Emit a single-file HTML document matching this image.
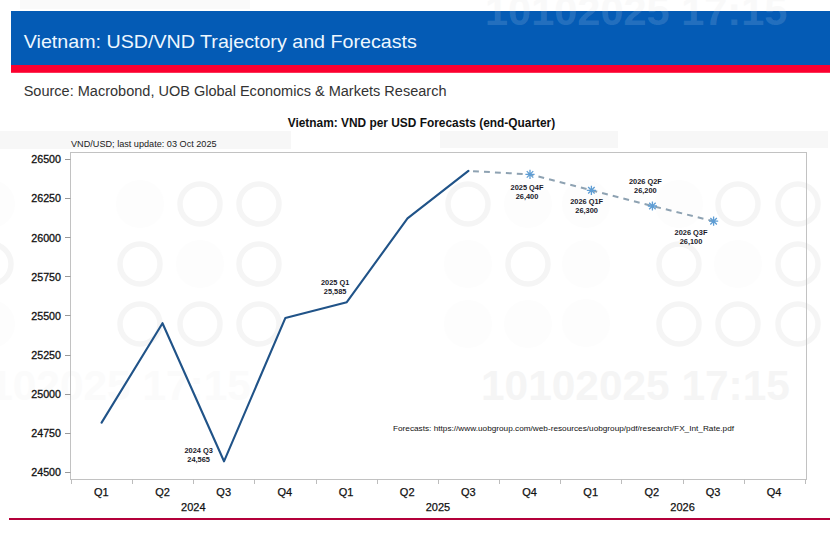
<!DOCTYPE html>
<html><head><meta charset="utf-8"><title>Vietnam: USD/VND Trajectory and Forecasts</title>
<style>
html,body{margin:0;padding:0;background:#fff;}
body{width:837px;height:536px;overflow:hidden;position:relative;font-family:"Liberation Sans",sans-serif;}
svg{position:absolute;left:0;top:0;display:block;}
</style></head><body>
<svg width="837" height="536" viewBox="0 0 837 536" font-family="Liberation Sans, sans-serif">

<g>
<rect x="0" y="131" width="291" height="18" fill="#f7f7f7"/>
<rect x="440" y="131" width="178" height="17" fill="#f7f7f7"/>
<rect x="650" y="131" width="178" height="17" fill="#f7f7f7"/>
<rect x="20" y="0" width="230" height="9" fill="#fafafa"/>
<circle cx="586" cy="204" r="24" fill="#fdfdfd"/>
<circle cx="586" cy="264" r="24" fill="#fdfdfd"/>
<circle cx="586" cy="323" r="24" fill="#fdfdfd"/>
<circle cx="140" cy="204" r="24" fill="#fdfdfd"/>
<circle cx="200" cy="264" r="24" fill="#fdfdfd"/>
<circle cx="679" cy="204" r="24" fill="#fdfdfd"/>
<circle cx="738" cy="264" r="24" fill="#fdfdfd"/>
<circle cx="528" cy="204" r="24" fill="#fdfdfd"/>
<circle cx="468" cy="264" r="24" fill="#fdfdfd"/>
<circle cx="468" cy="324" r="24" fill="#fdfdfd"/>
<circle cx="528" cy="324" r="24" fill="#fdfdfd"/>
<circle cx="-9" cy="204" r="24" fill="#fdfdfd"/>
<circle cx="-9" cy="324" r="24" fill="#fdfdfd"/>
<circle cx="200" cy="204" r="20" fill="none" stroke="#f5f5f5" stroke-width="5.5"/>
<circle cx="259" cy="204" r="20" fill="none" stroke="#f5f5f5" stroke-width="5.5"/>
<circle cx="140" cy="264" r="20" fill="none" stroke="#f5f5f5" stroke-width="5.5"/>
<circle cx="259" cy="264" r="20" fill="none" stroke="#f5f5f5" stroke-width="5.5"/>
<circle cx="140" cy="324" r="20" fill="none" stroke="#f5f5f5" stroke-width="5.5"/>
<circle cx="200" cy="324" r="20" fill="none" stroke="#f5f5f5" stroke-width="5.5"/>
<circle cx="259" cy="324" r="20" fill="none" stroke="#f5f5f5" stroke-width="5.5"/>
<circle cx="738" cy="204" r="20" fill="none" stroke="#f5f5f5" stroke-width="5.5"/>
<circle cx="798" cy="204" r="20" fill="none" stroke="#f5f5f5" stroke-width="5.5"/>
<circle cx="679" cy="264" r="20" fill="none" stroke="#f5f5f5" stroke-width="5.5"/>
<circle cx="798" cy="264" r="20" fill="none" stroke="#f5f5f5" stroke-width="5.5"/>
<circle cx="679" cy="324" r="20" fill="none" stroke="#f5f5f5" stroke-width="5.5"/>
<circle cx="738" cy="324" r="20" fill="none" stroke="#f5f5f5" stroke-width="5.5"/>
<circle cx="798" cy="324" r="20" fill="none" stroke="#f5f5f5" stroke-width="5.5"/>
<circle cx="468" cy="204" r="20" fill="none" stroke="#f5f5f5" stroke-width="5.5"/>
<circle cx="528" cy="264" r="20" fill="none" stroke="#f5f5f5" stroke-width="5.5"/>
<circle cx="-9" cy="264" r="20" fill="none" stroke="#f5f5f5" stroke-width="5.5"/>
<text x="481" y="400" font-size="42.4" font-weight="bold" fill="#f5f5f5">10102025 17:15</text>
<text x="-58" y="400" font-size="42.4" font-weight="bold" fill="#fbfbfb">10102025 17:15</text>
</g>
<rect x="11" y="11" width="819" height="54.5" fill="#045bb5"/>
<rect x="11" y="65" width="819" height="7.8" fill="#fc002f"/>
<clipPath id="c1"><rect x="0" y="0" width="837" height="11"/></clipPath>
<text x="485" y="25" font-size="41.5" font-weight="bold" fill="#f9f9f9" clip-path="url(#c1)">10102025 17:15</text>
<text x="485" y="25" font-size="41.5" font-weight="bold" fill="#ffffff" fill-opacity="0.14">10102025 17:15</text>
<text x="23.8" y="47.8" font-size="18.6" fill="#eef7ff" textLength="393" lengthAdjust="spacingAndGlyphs">Vietnam: USD/VND Trajectory and Forecasts</text>
<text x="23.7" y="95.9" font-size="15.2" fill="#333" textLength="422.8" lengthAdjust="spacingAndGlyphs">Source: Macrobond, UOB Global Economics &amp; Markets Research</text>
<text x="287.7" y="127.3" font-size="12" font-weight="bold" fill="#111" textLength="267.5" lengthAdjust="spacingAndGlyphs">Vietnam: VND per USD Forecasts (end-Quarter)</text>
<text x="71" y="147.4" font-size="9.15" fill="#1a1a1a">VND/USD; last update: 03 Oct 2025</text>
<rect x="70.5" y="152.5" width="736" height="327" fill="none" stroke="#c2c2c2" stroke-width="1"/>
<line x1="65" y1="472.5" x2="70.5" y2="472.5" stroke="#999" stroke-width="1"/>
<text x="61" y="476.4" font-size="10.7" fill="#111" stroke="#111" stroke-width="0.3" text-anchor="end">24500</text>
<line x1="65" y1="433.5" x2="70.5" y2="433.5" stroke="#999" stroke-width="1"/>
<text x="61" y="437.3" font-size="10.7" fill="#111" stroke="#111" stroke-width="0.3" text-anchor="end">24750</text>
<line x1="65" y1="394.5" x2="70.5" y2="394.5" stroke="#999" stroke-width="1"/>
<text x="61" y="398.1" font-size="10.7" fill="#111" stroke="#111" stroke-width="0.3" text-anchor="end">25000</text>
<line x1="65" y1="355.5" x2="70.5" y2="355.5" stroke="#999" stroke-width="1"/>
<text x="61" y="359.0" font-size="10.7" fill="#111" stroke="#111" stroke-width="0.3" text-anchor="end">25250</text>
<line x1="65" y1="315.5" x2="70.5" y2="315.5" stroke="#999" stroke-width="1"/>
<text x="61" y="319.8" font-size="10.7" fill="#111" stroke="#111" stroke-width="0.3" text-anchor="end">25500</text>
<line x1="65" y1="276.5" x2="70.5" y2="276.5" stroke="#999" stroke-width="1"/>
<text x="61" y="280.7" font-size="10.7" fill="#111" stroke="#111" stroke-width="0.3" text-anchor="end">25750</text>
<line x1="65" y1="237.5" x2="70.5" y2="237.5" stroke="#999" stroke-width="1"/>
<text x="61" y="241.6" font-size="10.7" fill="#111" stroke="#111" stroke-width="0.3" text-anchor="end">26000</text>
<line x1="65" y1="198.5" x2="70.5" y2="198.5" stroke="#999" stroke-width="1"/>
<text x="61" y="202.4" font-size="10.7" fill="#111" stroke="#111" stroke-width="0.3" text-anchor="end">26250</text>
<line x1="65" y1="159.5" x2="70.5" y2="159.5" stroke="#999" stroke-width="1"/>
<text x="61" y="163.3" font-size="10.7" fill="#111" stroke="#111" stroke-width="0.3" text-anchor="end">26500</text>
<line x1="71.5" y1="479.5" x2="71.5" y2="484" stroke="#bdbdbd" stroke-width="1"/>
<line x1="132.5" y1="479.5" x2="132.5" y2="484" stroke="#bdbdbd" stroke-width="1"/>
<line x1="193.5" y1="479.5" x2="193.5" y2="484" stroke="#bdbdbd" stroke-width="1"/>
<line x1="254.5" y1="479.5" x2="254.5" y2="484" stroke="#bdbdbd" stroke-width="1"/>
<line x1="316.5" y1="479.5" x2="316.5" y2="484" stroke="#bdbdbd" stroke-width="1"/>
<line x1="377.5" y1="479.5" x2="377.5" y2="484" stroke="#bdbdbd" stroke-width="1"/>
<line x1="438.5" y1="479.5" x2="438.5" y2="484" stroke="#bdbdbd" stroke-width="1"/>
<line x1="499.5" y1="479.5" x2="499.5" y2="484" stroke="#bdbdbd" stroke-width="1"/>
<line x1="560.5" y1="479.5" x2="560.5" y2="484" stroke="#bdbdbd" stroke-width="1"/>
<line x1="621.5" y1="479.5" x2="621.5" y2="484" stroke="#bdbdbd" stroke-width="1"/>
<line x1="683.5" y1="479.5" x2="683.5" y2="484" stroke="#bdbdbd" stroke-width="1"/>
<line x1="744.5" y1="479.5" x2="744.5" y2="484" stroke="#bdbdbd" stroke-width="1"/>
<line x1="805.5" y1="479.5" x2="805.5" y2="484" stroke="#bdbdbd" stroke-width="1"/>
<text x="101.4" y="496" font-size="11" fill="#111" stroke="#111" stroke-width="0.25" text-anchor="middle">Q1</text>
<text x="162.5" y="496" font-size="11" fill="#111" stroke="#111" stroke-width="0.25" text-anchor="middle">Q2</text>
<text x="223.7" y="496" font-size="11" fill="#111" stroke="#111" stroke-width="0.25" text-anchor="middle">Q3</text>
<text x="284.9" y="496" font-size="11" fill="#111" stroke="#111" stroke-width="0.25" text-anchor="middle">Q4</text>
<text x="346.0" y="496" font-size="11" fill="#111" stroke="#111" stroke-width="0.25" text-anchor="middle">Q1</text>
<text x="407.2" y="496" font-size="11" fill="#111" stroke="#111" stroke-width="0.25" text-anchor="middle">Q2</text>
<text x="468.3" y="496" font-size="11" fill="#111" stroke="#111" stroke-width="0.25" text-anchor="middle">Q3</text>
<text x="529.5" y="496" font-size="11" fill="#111" stroke="#111" stroke-width="0.25" text-anchor="middle">Q4</text>
<text x="590.7" y="496" font-size="11" fill="#111" stroke="#111" stroke-width="0.25" text-anchor="middle">Q1</text>
<text x="651.8" y="496" font-size="11" fill="#111" stroke="#111" stroke-width="0.25" text-anchor="middle">Q2</text>
<text x="713.0" y="496" font-size="11" fill="#111" stroke="#111" stroke-width="0.25" text-anchor="middle">Q3</text>
<text x="774.1" y="496" font-size="11" fill="#111" stroke="#111" stroke-width="0.25" text-anchor="middle">Q4</text>
<text x="193.3" y="511" font-size="11" fill="#111" stroke="#111" stroke-width="0.25" text-anchor="middle">2024</text>
<text x="438.0" y="511" font-size="11" fill="#111" stroke="#111" stroke-width="0.25" text-anchor="middle">2025</text>
<text x="682.6" y="511" font-size="11" fill="#111" stroke="#111" stroke-width="0.25" text-anchor="middle">2026</text>
<rect x="9" y="518" width="821" height="2" fill="#b3003a"/>
<polyline fill="none" stroke="#205388" stroke-width="2.1" stroke-linejoin="round" stroke-linecap="round" points="101.6,422.6 162.5,323.2 224.0,461.3 285.3,318.1 346.8,302.2 407.5,218.3 468.4,170.9"/>
<polyline fill="none" stroke="#8ea2b2" stroke-width="2" stroke-dasharray="5.86 5.1" stroke-dashoffset="6.3" points="468.4,170.9 530.0,174.4 591.4,190.3 652.4,206.0 713.6,221.2"/>
<path d="M525.40,174.40L534.60,174.40M526.75,171.15L533.25,177.65M530.00,169.80L530.00,179.00M533.25,171.15L526.75,177.65" stroke="#5e9dd4" stroke-width="1.3" fill="none"/>
<path d="M586.80,190.30L596.00,190.30M588.15,187.05L594.65,193.55M591.40,185.70L591.40,194.90M594.65,187.05L588.15,193.55" stroke="#5e9dd4" stroke-width="1.3" fill="none"/>
<path d="M647.80,206.00L657.00,206.00M649.15,202.75L655.65,209.25M652.40,201.40L652.40,210.60M655.65,202.75L649.15,209.25" stroke="#5e9dd4" stroke-width="1.3" fill="none"/>
<path d="M709.00,221.20L718.20,221.20M710.35,217.95L716.85,224.45M713.60,216.60L713.60,225.80M716.85,217.95L710.35,224.45" stroke="#5e9dd4" stroke-width="1.3" fill="none"/>
<text x="198.6" y="453.2" font-size="7.4" font-weight="bold" fill="#1a1a2a" text-anchor="middle">2024 Q3</text>
<text x="198.6" y="462.1" font-size="7.4" font-weight="bold" fill="#1a1a2a" text-anchor="middle">24,565</text>
<text x="335.1" y="284.8" font-size="7.4" font-weight="bold" fill="#1a1a2a" text-anchor="middle">2025 Q1</text>
<text x="335.1" y="293.7" font-size="7.4" font-weight="bold" fill="#1a1a2a" text-anchor="middle">25,585</text>
<text x="527.0" y="189.8" font-size="7.4" font-weight="bold" fill="#1a1a2a" text-anchor="middle">2025 Q4F</text>
<text x="527.0" y="198.7" font-size="7.4" font-weight="bold" fill="#1a1a2a" text-anchor="middle">26,400</text>
<text x="586.6" y="203.6" font-size="7.4" font-weight="bold" fill="#1a1a2a" text-anchor="middle">2026 Q1F</text>
<text x="586.6" y="212.5" font-size="7.4" font-weight="bold" fill="#1a1a2a" text-anchor="middle">26,300</text>
<text x="645.4" y="183.8" font-size="7.4" font-weight="bold" fill="#1a1a2a" text-anchor="middle">2026 Q2F</text>
<text x="645.4" y="192.7" font-size="7.4" font-weight="bold" fill="#1a1a2a" text-anchor="middle">26,200</text>
<text x="691.0" y="234.6" font-size="7.4" font-weight="bold" fill="#1a1a2a" text-anchor="middle">2026 Q3F</text>
<text x="691.0" y="243.5" font-size="7.4" font-weight="bold" fill="#1a1a2a" text-anchor="middle">26,100</text>
<text x="393" y="431.3" font-size="8" fill="#111" textLength="341" lengthAdjust="spacingAndGlyphs">Forecasts: https://www.uobgroup.com/web-resources/uobgroup/pdf/research/FX_Int_Rate.pdf</text>
</svg>
</body></html>
